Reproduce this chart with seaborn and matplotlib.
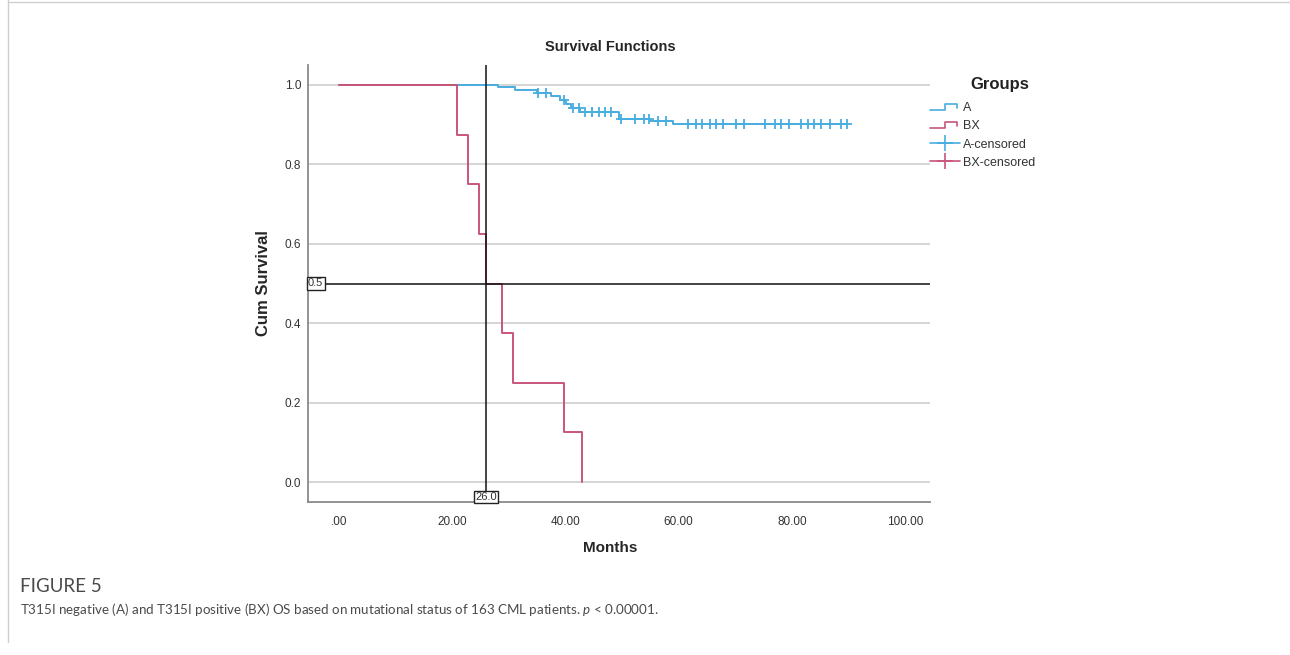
import numpy as np
import pandas as pd
import matplotlib
matplotlib.use("Agg")
import matplotlib.pyplot as plt
import seaborn as sns
from matplotlib.lines import Line2D
from matplotlib.legend_handler import HandlerBase, HandlerLine2D

# ---------------- data ----------------
a_step_times = [0, 28.0, 31.0, 35.0, 37.5, 39.0, 40.0, 41.0, 42.5, 49.5, 55.0, 59.0, 89.8]
a_step_surv = [1.0, 0.994, 0.987, 0.980, 0.972, 0.962, 0.952, 0.942, 0.932, 0.915, 0.908, 0.901, 0.901]
a_censor_times = [35.2, 36.6, 39.8, 41.3, 42.3, 43.4, 44.6, 45.9, 47.0, 48.0, 49.8, 52.3, 53.8,
                  54.8, 56.4, 57.7, 61.6, 63.0, 64.1, 65.5, 66.6, 67.9, 70.2, 71.6, 75.2, 77.0,
                  78.0, 79.5, 81.6, 82.9, 83.9, 85.2, 86.8, 88.6, 89.8]
bx_step_times = [0, 20.8, 22.8, 24.8, 26.0, 28.8, 30.8, 39.8, 42.9]
bx_step_surv = [1.0, 0.875, 0.75, 0.625, 0.5, 0.375, 0.25, 0.125, 0.0]
median_time = 26.0
median_surv = 0.5
x_ticks = [0, 20, 40, 60, 80, 100]
x_tick_labels = [".00", "20.00", "40.00", "60.00", "80.00", "100.00"]
y_ticks = [0.0, 0.2, 0.4, 0.6, 0.8, 1.0]
y_tick_labels = ["0.0", "0.2", "0.4", "0.6", "0.8", "1.0"]
groups = ["A", "BX"]
legend_labels = ["A", "BX", "A-censored", "BX-censored"]

col_a = "#48ade0"
col_bx = "#c8557a"
palette = {"A": col_a, "BX": col_bx}

steps = pd.DataFrame({
    "Months": a_step_times + bx_step_times,
    "Cum Survival": a_step_surv + bx_step_surv,
    "Group": ["A"] * len(a_step_times) + ["BX"] * len(bx_step_times),
})
idx = np.searchsorted(a_step_times, a_censor_times, side="right") - 1
censor = pd.DataFrame({
    "Months": a_censor_times,
    "Cum Survival": np.array(a_step_surv)[idx],
    "Group": "A",
})

# ---------------- figure ----------------
sns.set_style("white")
plt.rcParams["font.family"] = ["Liberation Sans", "DejaVu Sans"]
fig = plt.figure(figsize=(12.9, 6.55), dpi=100)
AX_L, AX_R, AX_B, AX_T = 308, 930, 502, 65
ax = fig.add_axes([AX_L / 1290, 1 - AX_B / 655, (AX_R - AX_L) / 1290, (AX_B - AX_T) / 655])

XMIN, XMAX = -5.5, 104.4
YMIN, YMAX = -0.05, 1.05

for yv in y_ticks:
    ax.axhline(yv, color="#d2d2d2", lw=1.3, zorder=0)

sns.lineplot(data=steps, x="Months", y="Cum Survival", hue="Group", palette=palette,
             drawstyle="steps-post", estimator=None, sort=False, legend=False,
             lw=1.4, ax=ax, zorder=3)
sns.scatterplot(data=censor, x="Months", y="Cum Survival", color=col_a, marker="+",
                s=50, linewidth=1.3, legend=False, ax=ax, zorder=4)

ax.set_xlim(XMIN, XMAX)
ax.set_ylim(YMIN, YMAX)

# median reference lines
ax.axvline(median_time, color="#111111", lw=1.1, zorder=5)
ax.axhline(median_surv, color="#111111", lw=1.1, zorder=5)
box = dict(boxstyle="square,pad=0.12", fc="white", ec="#222222", lw=1.0)
ax.text(XMIN, median_surv, "0.5", ha="left", va="center", fontsize=8, color="#333333",
        bbox=box, zorder=6)
ax.text(median_time, YMIN, f"{median_time:.1f}", ha="center", va="bottom", fontsize=8,
        color="#333333", bbox=box, zorder=6)

ax.set_xticks(x_ticks)
ax.set_xticklabels(x_tick_labels)
ax.set_yticks(y_ticks)
ax.set_yticklabels(y_tick_labels)
ax.tick_params(axis="x", length=0, labelsize=8.5, colors="#333333", pad=10)
ax.tick_params(axis="y", length=0, labelsize=8.5, colors="#333333", pad=5)
ax.grid(False)
for s in ["top", "right"]:
    ax.spines[s].set_visible(False)
for s in ["left", "bottom"]:
    ax.spines[s].set_color("#8a8a8a")
    ax.spines[s].set_linewidth(1.3)

ax.set_xlabel("Months", fontsize=11, fontweight="bold")
ax.set_ylabel("Cum Survival", fontsize=12, fontweight="bold", labelpad=10)
# axis / chart titles centred on the chart area as in the reference
cx = (610 - AX_L) / (AX_R - AX_L)
ax.xaxis.set_label_coords(cx, -(548 - AX_B) / (AX_B - AX_T))
ax.xaxis.label.set_va("center")
ax.set_title("Survival Functions", fontsize=10.5, fontweight="bold", x=cx, pad=10)


# legend with step glyphs
class StepHandler(HandlerBase):
    def create_artists(self, legend, orig_handle, xdescent, ydescent, width, height,
                       fontsize, trans):
        x0 = -xdescent
        w = width
        lo = -ydescent + height * 0.15
        hi = -ydescent + height * 0.85
        xs = [x0, x0 + w * 0.5, x0 + w * 0.5, x0 + w * 0.9, x0 + w * 0.9]
        ys = [lo, lo, hi, hi, lo + (hi - lo) * 0.3]
        ln = Line2D(xs, ys, color=orig_handle.get_color(), lw=1.2, transform=trans)
        return [ln]


h_a = Line2D([], [], color=col_a)
h_bx = Line2D([], [], color=col_bx)
h_ac = Line2D([], [], color=col_a, marker="+", markersize=11, mew=1.2, lw=1.2)
h_bc = Line2D([], [], color=col_bx, marker="+", markersize=11, mew=1.2, lw=1.2)
leg = fig.legend([h_a, h_bx, h_ac, h_bc], legend_labels,
                 handler_map={h_a: StepHandler(), h_bx: StepHandler(),
                              h_ac: HandlerLine2D(numpoints=1), h_bc: HandlerLine2D(numpoints=1)},
                 loc="upper left", bbox_to_anchor=(930 / 1290, 1 - 102 / 655),
                 frameon=False, fontsize=9,
                 handlelength=2.4, handletextpad=0.25, labelspacing=0.5,
                 borderaxespad=0, borderpad=0)
for t in leg.get_texts():
    t.set_color("#333333")
fig.text(1000 / 1290, 1 - 84 / 655, "Groups", fontsize=12, fontweight="bold",
         color="#222222", ha="center", va="center")

# caption
plt.rcParams["mathtext.fontset"] = "custom"
plt.rcParams["mathtext.it"] = "Lato:italic"
plt.rcParams["mathtext.rm"] = "Lato"
fig.text(20 / 1290, 1 - 586 / 655, "FIGURE 5", fontsize=13.5, color="#4a4a4a",
         family="Lato", va="center", ha="left")
fig.text(20 / 1290, 1 - 610 / 655,
         r"T315I negative (A) and T315I positive (BX) OS based on mutational status of 163 CML patients. $p$ < 0.00001.",
         fontsize=9.6, color="#4a4a4a", family="Lato", va="center", ha="left")

# page border
fig.add_artist(Line2D([8 / 1290, 8 / 1290], [0.02, 1.0], transform=fig.transFigure,
                      color="#cfcfcf", lw=1.0))
fig.add_artist(Line2D([8 / 1290, 1.0], [1 - 2 / 655, 1 - 2 / 655], transform=fig.transFigure,
                      color="#cfcfcf", lw=1.0))

fig.savefig("out.png", dpi=100, facecolor="white")
